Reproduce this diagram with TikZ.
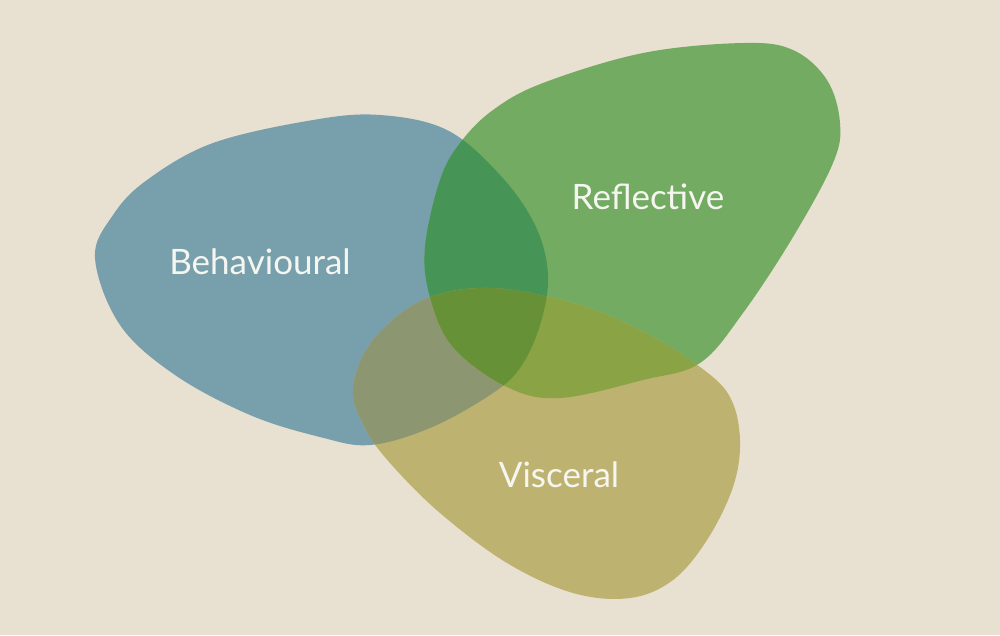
\documentclass[tikz,border=0pt]{standalone}
\usepackage{fontspec}
\setmainfont{Lato}
\definecolor{paper}{RGB}{232,225,209}
\definecolor{behavblue}{RGB}{120,159,172}
\definecolor{reflgreen}{RGB}{114,171,97}
\definecolor{viscolive}{RGB}{190,178,112}
\definecolor{bluegreen}{RGB}{70,148,86}
\definecolor{blueolive}{RGB}{140,150,112}
\definecolor{greenolive}{RGB}{138,163,68}
\definecolor{allthree}{RGB}{102,145,55}
\definecolor{labelwhite}{RGB}{246,246,240}
\tikzstyle{label text}=[text=labelwhite, inner sep=0pt, font=\fontsize{35}{42}\selectfont]
\newcommand{\behavblob}{plot[smooth cycle,tension=.6] coordinates {(95,258) (113,215) (147,180) (213,143) (313,120) (380,115) (447,130) (500,175) (535,225) (548,275) (540,325) (520,368) (490,395) (430,428) (370,445) (320,437) (250,415) (175,375) (120,325)}}
\newcommand{\reflblob}{plot[smooth cycle,tension=.6] coordinates {(425,247) (440,180) (460,143) (493,110) (543,83) (643,53) (743,43) (793,50) (827,80) (840,123) (833,163) (793,237) (743,313) (700,363) (643,380) (560,398) (507,387) (453,347) (430,297)}}
\newcommand{\viscblob}{plot[smooth cycle,tension=.6] coordinates {(490,288) (573,303) (640,330) (700,367) (730,397) (740,440) (733,487) (707,540) (673,580) (630,598) (573,593) (507,563) (440,513) (390,463) (365,428) (353,388) (373,340) (423,300)}}

\begin{document}
\begin{tikzpicture}[x=1pt,y=-1pt]

    % Paper
    \fill[paper] (0,0) rectangle (1000,635);
    \useasboundingbox (0,0) rectangle (1000,635);

    % Blobs
    \fill[behavblue] \behavblob;
    \fill[reflgreen] \reflblob;
    \fill[viscolive] \viscblob;

    % Overlaps
    \begin{scope}
        \clip \behavblob;
        \fill[bluegreen] \reflblob;
        \fill[blueolive] \viscblob;
    \end{scope}
    \begin{scope}
        \clip \reflblob;
        \fill[greenolive] \viscblob;
    \end{scope}
    \begin{scope}
        \clip \behavblob;
        \clip \reflblob;
        \fill[allthree] \viscblob;
    \end{scope}

    % Labels
    \node[label text] (behav) at (260,262) {Behavioural};
    \node[label text] (refl) at (648,197) {Reflective};
    \node[label text] (visc) at (559,475) {Visceral};

\end{tikzpicture}
\end{document}
